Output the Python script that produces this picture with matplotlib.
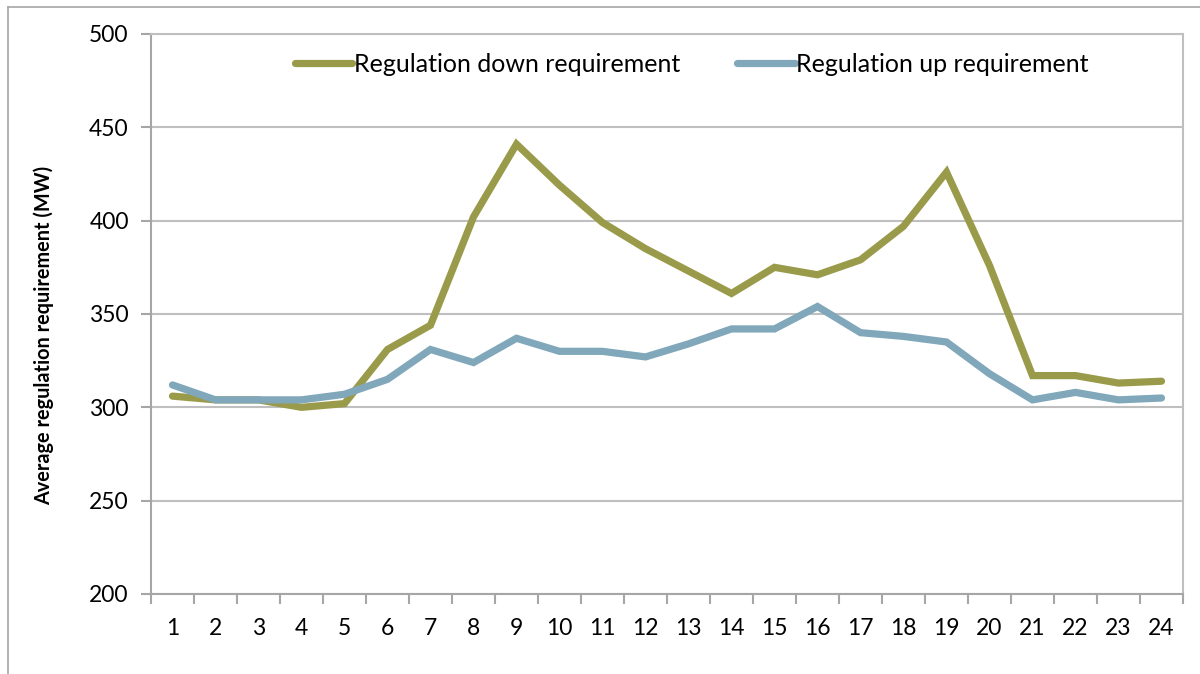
import matplotlib.pyplot as plt
from matplotlib.lines import Line2D
import numpy as np

HOURS = list(range(1, 25))
REG_DOWN = [306, 304, 304, 300, 302, 331, 344, 402, 441, 419, 399, 385, 373, 361,
            375, 371, 379, 397, 426, 376, 317, 317, 313, 314]
REG_UP = [312, 304, 304, 304, 307, 315, 331, 324, 337, 330, 330, 327, 334, 342,
          342, 354, 340, 338, 335, 318, 304, 308, 304, 305]

DOWN_COLOR = "#9a9b4a"
UP_COLOR = "#80a7ba"
GRID_COLOR = "#bfbfbf"
AXIS_COLOR = "#a6a6a6"

plt.rcParams["font.family"] = ["Lato", "DejaVu Sans"]


def main():
    fig = plt.figure(figsize=(12, 6.74), dpi=100)
    ax = fig.add_axes([151 / 1200, 1 - 594 / 674, (1183 - 151) / 1200, (594 - 34) / 674])

    x = np.arange(len(HOURS))
    ax.plot(x, REG_DOWN, color=DOWN_COLOR, lw=5.2, solid_capstyle="round",
            solid_joinstyle="miter", label="Regulation down requirement")
    ax.plot(x, REG_UP, color=UP_COLOR, lw=5.2, solid_capstyle="round",
            solid_joinstyle="miter", label="Regulation up requirement")

    ax.set_xlim(-0.5, len(HOURS) - 0.5)
    ax.set_ylim(200, 500)
    ax.set_yticks(range(200, 501, 50))
    ax.set_xticks(x)
    ax.set_xticklabels([str(h) for h in HOURS])
    ax.set_xticks(np.arange(-0.5, len(HOURS)), minor=True)
    ax.tick_params(axis="x", which="major", length=0, pad=17, labelsize=16.5)
    ax.tick_params(axis="x", which="minor", length=7, color=AXIS_COLOR, width=1.5)
    ax.tick_params(axis="y", length=7, color=AXIS_COLOR, width=1.5, labelsize=16.5, pad=9)

    ax.yaxis.grid(True, color=GRID_COLOR, lw=1.5)
    ax.set_axisbelow(True)
    for side in ["left", "bottom"]:
        ax.spines[side].set_color(AXIS_COLOR)
        ax.spines[side].set_linewidth(1.5)
    ax.spines["top"].set_color(GRID_COLOR)
    ax.spines["top"].set_linewidth(1.5)
    ax.spines["right"].set_color(GRID_COLOR)
    ax.spines["right"].set_linewidth(1.5)

    ax.set_ylabel("Average regulation requirement (MW)", fontsize=14.3,
                  fontweight="bold")
    ax.yaxis.set_label_coords(-0.094, 0.4625)

    ax.legend(loc="upper center", bbox_to_anchor=(0.524, 1.0), ncol=2, frameon=False,
              fontsize=18, handlelength=2.3, handletextpad=0.05, columnspacing=2.3,
              borderaxespad=0.35)

    # outer chart border (left and top edges visible in the reference)
    fig.add_artist(Line2D([8 / 1200, 8 / 1200], [0, 1 - 7 / 674], color="#a6a6a6", lw=1.2))
    fig.add_artist(Line2D([8 / 1200, 1], [1 - 7 / 674, 1 - 7 / 674], color="#a6a6a6", lw=1.2))

    fig.savefig("out.png", dpi=100)


if __name__ == "__main__":
    main()
